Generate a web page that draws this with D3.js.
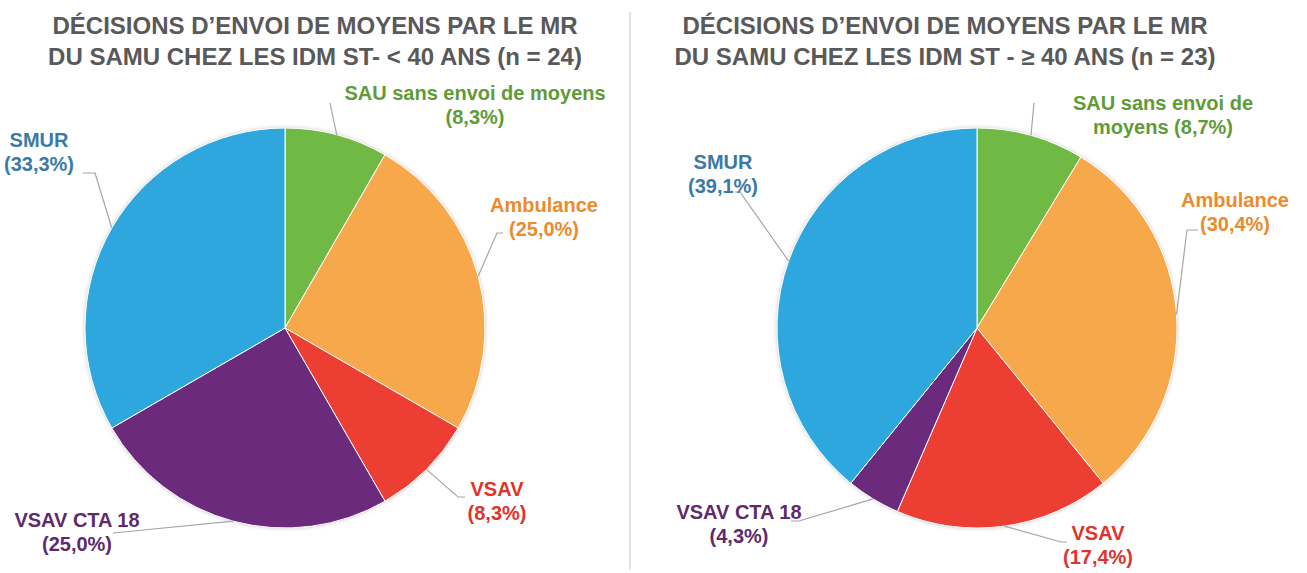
<!DOCTYPE html>
<html>
<head>
<meta charset="utf-8">
<script src="https://cdn.jsdelivr.net/npm/d3@7"></script>
<style>
  body { margin: 0; background: #fff; }
  svg { display: block; }
  text { font-family: "Liberation Sans Narrow", "Arial Narrow", "Liberation Sans", Arial, sans-serif; font-weight: bold; }
</style>
</head>
<body>
<svg id="chart" width="1307" height="573"></svg>
<script>
const categories = ['SAU sans envoi de moyens', 'Ambulance', 'VSAV', 'VSAV CTA 18', 'SMUR']
const countsUnder40 = [2, 6, 2, 6, 8]   // n = 24
const countsOver40 = [2, 7, 4, 1, 9]    // n = 23
const titlesUnder40 = ['DÉCISIONS D\u2019ENVOI DE MOYENS PAR LE MR', 'DU SAMU CHEZ LES IDM ST- < 40 ANS (n = 24)']
const titlesOver40 = ['DÉCISIONS D\u2019ENVOI DE MOYENS PAR LE MR', 'DU SAMU CHEZ LES IDM ST - \u2265 40 ANS (n = 23)']

const sliceColors = ['#70b944', '#f6a84a', '#ed3e33', '#6b2a7b', '#2ea7de']
const labelColors = ['#5f9b36', '#ec8a2c', '#e0332b', '#5e2a6c', '#3a7ba5']

const svg = d3.select('#chart')
const fmt = v => '(' + v.toFixed(1).replace('.', ',') + '%)'

// divider between the two panels
svg.append('line')
  .attr('x1', 630).attr('x2', 630).attr('y1', 12).attr('y2', 570)
  .attr('stroke', '#dcdcdc').attr('stroke-width', 1.5)

const defs = svg.append('defs')
const shadow = defs.append('filter').attr('id', 'shadow')
  .attr('x', '-10%').attr('y', '-10%').attr('width', '120%').attr('height', '120%')
shadow.append('feDropShadow').attr('dx', 0).attr('dy', 0).attr('stdDeviation', 2)
  .attr('flood-color', '#000').attr('flood-opacity', 0.25)

// label placement per panel: text centre (relative to pie centre), and leader elbow
const layoutUnder40 = [
  { lines: ['SAU sans envoi de moyens'], tx: 190, ty: -228, elbow: [45, -225], end: [45, -225] },
  { lines: ['Ambulance'], tx: 259, ty: -116, elbow: [212, -95], end: [218, -95] },
  { lines: ['VSAV'], tx: 212, ty: 168, elbow: [173, 169], end: [180, 169] },
  { lines: ['VSAV CTA 18'], tx: -208, ty: 199, elbow: [-172, 205], end: [-172, 205] },
  { lines: ['SMUR'], tx: -246, ty: -181, elbow: [-190, -155], end: [-202, -155] }
]
const layoutOver40 = [
  { lines: ['SAU sans envoi de', 'moyens'], tx: 186, ty: -218, elbow: [57, -225], end: [57, -225] },
  { lines: ['Ambulance'], tx: 258, ty: -121, elbow: [210, -98], end: [221, -98] },
  { lines: ['VSAV'], tx: 121, ty: 212, elbow: [84, 214], end: [90, 214] },
  { lines: ['VSAV CTA 18'], tx: -238, ty: 191, elbow: [-178, 193], end: [-186, 193] },
  { lines: ['SMUR'], tx: -254, ty: -159, elbow: [-237, -136], end: [-242, -136] }
]

function drawPie(cx, titleLines, titleX, counts, layout) {
  const total = d3.sum(counts)
  const r = 200
  const g = svg.append('g').attr('transform', `translate(${cx},328)`)

  svg.append('text')
    .attr('x', titleX).attr('y', 34)
    .attr('text-anchor', 'middle')
    .attr('fill', '#595959')
    .style('font-size', '24px')
    .selectAll('tspan').data(titleLines).join('tspan')
    .attr('x', titleX).attr('dy', (d, i) => i ? 31 : 0)
    .text(d => d)

  const pie = d3.pie().sort(null).value(d => d)
  const arcs = pie(counts)
  const arc = d3.arc().innerRadius(0).outerRadius(r)

  g.append('circle').attr('r', r).attr('fill', '#fff').attr('filter', 'url(#shadow)')
  g.selectAll('path.slice').data(arcs).join('path')
    .attr('class', 'slice')
    .attr('d', arc)
    .attr('fill', (d, i) => sliceColors[i])
    .attr('stroke', '#fff').attr('stroke-width', 1)

  arcs.forEach((a, i) => {
    const L = layout[i]
    const mid = (a.startAngle + a.endAngle) / 2
    const p0 = [Math.sin(mid) * r, -Math.cos(mid) * r]
    g.append('polyline')
      .attr('points', [p0, L.elbow, L.end].map(p => p.join(',')).join(' '))
      .attr('fill', 'none').attr('stroke', '#a6a6a6').attr('stroke-width', 1.2)

    const pct = counts[i] / total * 100
    const lines = L.lines.slice()
    if (lines.length > 1) lines[lines.length - 1] += ' ' + fmt(pct)
    else lines.push(fmt(pct))
    g.append('text')
      .attr('text-anchor', 'middle')
      .attr('fill', labelColors[i])
      .style('font-size', '20px')
      .selectAll('tspan').data(lines).join('tspan')
      .attr('x', L.tx).attr('y', (d, j) => L.ty + j * 24)
      .text(d => d)
  })
}

drawPie(285, titlesUnder40, 315, countsUnder40, layoutUnder40)
drawPie(977, titlesOver40, 945, countsOver40, layoutOver40)
</script>
</body>
</html>
